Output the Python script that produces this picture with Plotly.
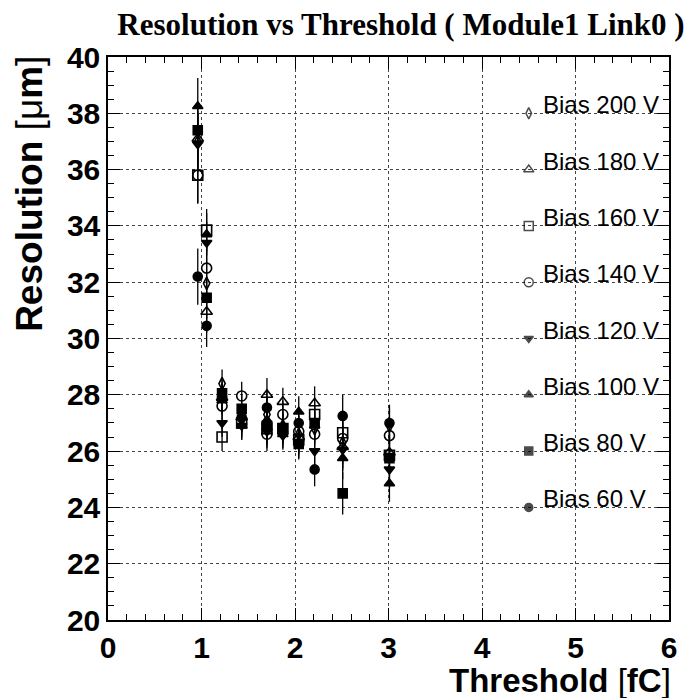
import plotly.graph_objects as go

thresholds = [0.96, 1.055, 1.22, 1.43, 1.70, 1.87, 2.04, 2.21, 2.51, 3.01]
errors = [1.0, 0.75, 0.5, 0.5, 0.6, 0.5, 0.55, 0.6, 0.75, 0.65]

bias_labels = ["Bias 200 V", "Bias 180 V", "Bias 160 V", "Bias 140 V",
               "Bias 120 V", "Bias 100 V", "Bias 80 V", "Bias 60 V"]
res_200 = [37.0, 31.96, 28.4, 27.1, 27.3, 26.9, 26.6, 26.8, 26.3, 26.9]
res_180 = [37.1, 30.95, 27.9, 27.2, 28.0, 27.75, 26.5, 27.7, 26.15, 25.95]
res_160 = [35.8, 33.85, 26.5, 27.0, 26.8, 26.8, 26.4, 27.3, 26.65, 25.85]
res_140 = [35.8, 32.5, 27.6, 27.96, 26.6, 27.3, 26.7, 26.6, 26.45, 26.55]
res_120 = [36.9, 33.4, 27.0, 26.9, 26.7, 26.55, 26.3, 26.0, 26.05, 25.35]
res_100 = [38.25, 33.7, 27.8, 26.9, 27.1, 26.6, 27.4, 26.9, 25.75, 24.85]
res_80 = [37.4, 31.45, 28.05, 27.5, 26.9, 26.8, 26.25, 27.0, 24.5, 25.75]
res_60 = [32.2, 30.45, 27.9, 27.2, 27.55, 26.7, 27.0, 25.35, 27.25, 27.0]
series = [res_200, res_180, res_160, res_140, res_120, res_100, res_80, res_60]

legend_x = 4.5
legend_y = [38, 36, 34, 32, 30, 28, 26, 24]

symbols = ["diamond-tall-open", "triangle-up-open", "square-open", "circle-open",
           "triangle-down", "triangle-up", "square", "circle"]
sizes = [9, 10, 10, 10, 9, 9, 9, 9]

fig = go.Figure()
for lab, vals, sym, sz in zip(bias_labels, series, symbols, sizes):
    fig.add_trace(go.Scatter(
        x=thresholds, y=vals, mode="markers", name=lab,
        marker=dict(symbol=sym, size=sz, color="black", line=dict(width=1.6, color="black")),
        error_y=dict(type="data", array=errors, width=0, thickness=1.3, color="black"),
        showlegend=False))

fig.add_trace(go.Scatter(
    x=[legend_x] * len(legend_y), y=legend_y, mode="markers",
    marker=dict(symbol=symbols, size=[s - 1 for s in sizes], color="black",
                line=dict(width=1.5, color="black")),
    showlegend=False))

annotations = []
for lab, yv in zip(bias_labels, legend_y):
    annotations.append(dict(x=legend_x, y=yv, xref="x", yref="y", text=lab,
                            showarrow=False, xanchor="left", yanchor="bottom",
                            xshift=12, yshift=-7,
                            font=dict(family="Liberation Sans", size=24, color="black")))

annotations.append(dict(x=1.0, y=-60 / 563, xref="paper", yref="paper",
                        text="<b>Threshold</b> [<b>fC</b>]", showarrow=False,
                        xanchor="right", yanchor="middle", xshift=4,
                        font=dict(family="Liberation Sans", size=33, color="black")))
annotations.append(dict(x=(28 - 108) / 567, y=1.0, xref="paper", yref="paper",
                        text="<b>Resolution</b> [μ<b>m</b>]", showarrow=False, textangle=-90,
                        xanchor="center", yanchor="top", yshift=3,
                        font=dict(family="Liberation Sans", size=37, color="black")))

axis_common = dict(
    ticks="inside", showline=True, linecolor="black", linewidth=1.5, mirror="ticks",
    showgrid=True, gridcolor="#444444", griddash="dot", gridwidth=1, zeroline=False,
    tickfont=dict(family="Liberation Sans", size=30, color="black", weight="bold"),
    tickcolor="black", ticklen=12,
)

fig.update_layout(
    width=689, height=698,
    margin=dict(l=108, r=14, t=57, b=78),
    paper_bgcolor="white", plot_bgcolor="white",
    title=dict(text="<b>Resolution vs Threshold ( Module1 Link0 )</b>",
               x=401 / 689, xanchor="center", y=1 - 24 / 698, yanchor="middle",
               font=dict(family="Liberation Serif", size=31, color="black")),
    xaxis=dict(range=[0, 6], dtick=1, tick0=0,
               minor=dict(ticks="inside", ticklen=6, dtick=0.2, tickcolor="black", showgrid=False),
               **axis_common),
    yaxis=dict(range=[20, 40], dtick=2, tick0=20,
               minor=dict(ticks="inside", ticklen=6, dtick=0.5, tickcolor="black", showgrid=False),
               **axis_common),
    annotations=annotations,
)

fig.write_html("out.html")
